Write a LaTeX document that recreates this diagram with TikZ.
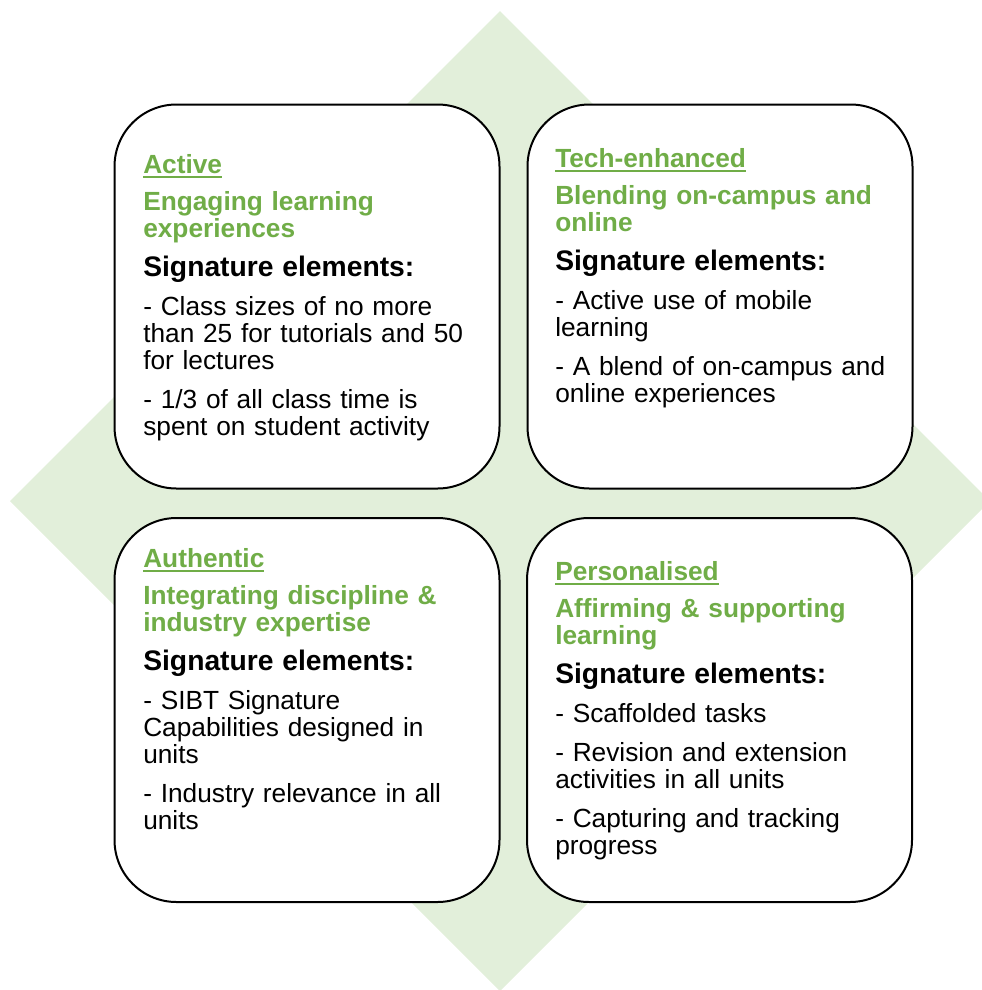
\documentclass[tikz,border=0pt]{standalone}
\usepackage{fontspec}
\setmainfont{Liberation Sans}
\usepackage{tikz}
\usetikzlibrary{positioning}
\definecolor{cardgreen}{HTML}{70AD47}
\definecolor{paleleaf}{HTML}{E2EFDA}
\tikzset{
card/.style = {draw, line width=1.5pt, fill=white, rectangle, rounded corners=46.5pt, minimum width=288.75pt, minimum height=288pt, inner sep=0pt},
cardtext/.style = {anchor=base west, inner sep=0pt, text width=270pt, align=left, font=\fontsize{19.7}{20.25}\selectfont}
}
\newlength{\titlewd}
\newcommand{\cardtitle}[1]{\leavevmode{\color{cardgreen}\bfseries\settowidth{\titlewd}{#1}#1\hspace{-\titlewd}\rule[-3.9pt]{\titlewd}{1.9pt}}\par\vspace{7.5pt}}
\newcommand{\cardsub}[1]{\leavevmode{\color{cardgreen}\bfseries #1}\par\vspace{9pt}}
\newcommand{\cardsig}{\leavevmode{\bfseries\fontsize{21.2}{20.25}\selectfont Signature elements:}\par\vspace{9pt}}
\newcommand{\cardgap}{\par\vspace{9pt}}

\begin{document}
\begin{tikzpicture}[x=0.75pt, y=-0.75pt]
    \useasboundingbox (0,0) rectangle (982,990);
    \clip (0,0) rectangle (982,990);
    % background diamond
    \fill[paleleaf] (500,11) -- (990,501) -- (500,991) -- (10,501) -- cycle;

    \node [card] (active) at (307,296.5) {};
    \node [card] (tech) at (720,296.5) {};
    \node [card] (authentic) at (307,710) {};
    \node [card] (personal) at (719.5,710) {};

    \node [cardtext] (activetxt) at (143,173) {\cardtitle{Active}\cardsub{Engaging learning\\experiences}\cardsig
      - Class sizes of no more\\than 25 for tutorials and 50\\for lectures\cardgap
      - 1/3 of all class time is\\spent on student activity};
    \node [cardtext] (techtxt) at (555,167) {\cardtitle{Tech-enhanced}\cardsub{Blending on-campus and\\online}\cardsig
      - Active use of mobile\\learning\cardgap
      - A blend of on-campus and\\online experiences};
    \node [cardtext] (authentictxt) at (143,567) {\cardtitle{Authentic}\cardsub{Integrating discipline \&\\industry expertise}\cardsig
      - SIBT Signature\\Capabilities designed in\\units\cardgap
      - Industry relevance in all\\units};
    \node [cardtext] (personaltxt) at (555,580) {\cardtitle{Personalised}\cardsub{Affirming \& supporting\\learning}\cardsig
      - Scaffolded tasks\cardgap
      - Revision and extension\\activities in all units\cardgap
      - Capturing and tracking\\progress};
\end{tikzpicture}
\end{document}
